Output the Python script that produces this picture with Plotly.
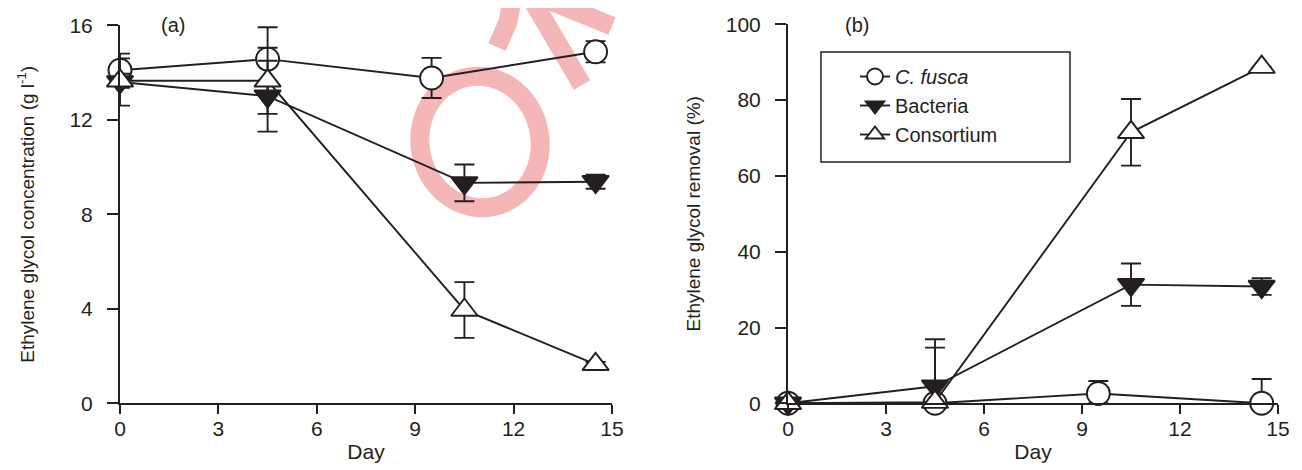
import numpy as np
import plotly.graph_objects as go

# ---------------- data ----------------
days_cf = [0, 4.5, 9.5, 14.5]
days_bc = [0, 4.5, 10.5, 14.5]

conc_cf = [14.1, 14.57, 13.77, 14.88]
conc_cf_err = [0.7, 1.35, 0.85, 0.45]
conc_bac = [13.6, 13.0, 9.33, 9.38]
conc_bac_err = [1.0, 1.5, 0.78, 0.3]
conc_con = [13.65, 13.65, 3.95, 1.65]
conc_con_err = [0.3, 1.4, 1.18, 0.1]

rem_cf = [0, 0, 2.6, 0]
rem_cf_err = [0, 0, 3.3, 6.4]
rem_bac = [0, 4.5, 31.3, 30.8]
rem_bac_err = [0, 12.4, 5.6, 2.2]
rem_con = [0, 0.3, 71.5, 88.7]
rem_con_err = [0, 14.4, 8.8, 0]

names = ["<i>C. fusca</i>", "Bacteria", "Consortium"]
x_ticks = [0, 3, 6, 9, 12, 15]
conc_ticks = [0, 4, 8, 12, 16]
rem_ticks = [0, 20, 40, 60, 80, 100]

# ---------------- layout helpers ----------------
# the page body adds an 8 px margin, so the figure is drawn 8 px smaller
OFF = 8
W, H = 1302 - OFF, 470 - OFF
FONT = "Liberation Sans, Arial, sans-serif"
INK = "#231f20"


def px2x(p):
    return (p - OFF) / W


def py2y(p):
    return (H - (p - OFF)) / H


fig = go.Figure()

styles = [
    dict(symbol="circle", color="white"),
    dict(symbol="triangle-down", color=INK),
    dict(symbol="triangle-up", color="white"),
]


def add(x, y, err, style, name, xa, ya, legend):
    minus = [min(e, v) for e, v in zip(err, y)]
    fig.add_trace(go.Scatter(
        x=x, y=y, mode="lines+markers", name=name,
        line=dict(color=INK, width=1.9),
        marker=dict(symbol=style["symbol"], size=23, color=style["color"],
                    line=dict(color=INK, width=1.9)),
        error_y=dict(type="data", array=err, arrayminus=minus, symmetric=False,
                     color=INK, thickness=1.9, width=10),
        cliponaxis=False, xaxis=xa, yaxis=ya, showlegend=legend,
        legendgroup=name,
    ))


panel_a = [(days_cf, conc_cf, conc_cf_err), (days_bc, conc_bac, conc_bac_err),
           (days_bc, conc_con, conc_con_err)]
panel_b = [(days_cf, rem_cf, rem_cf_err), (days_bc, rem_bac, rem_bac_err),
           (days_bc, rem_con, rem_con_err)]

for (x, y, e), st, nm in zip(panel_a, styles, names):
    add(x, y, e, st, nm, "x", "y", False)
for (x, y, e), st, nm in zip(panel_b, styles, names):
    add(x, y, e, st, nm, "x2", "y2", True)

axis_common = dict(
    showline=True, linecolor=INK, linewidth=2, ticks="outside", tickwidth=2,
    tickcolor=INK, showgrid=False, zeroline=False, automargin=False,
    tickfont=dict(family=FONT, size=21, color=INK),
)
xaxis_common = dict(range=[0, 15], tickvals=x_ticks, ticklen=9, ticklabelstandoff=-4,
                    title=dict(text="Day", font=dict(family=FONT, size=21, color=INK),
                               standoff=6),
                    **axis_common)

fig.update_layout(
    width=W, height=H,
    margin=dict(l=0, r=0, t=0, b=0),
    paper_bgcolor="white", plot_bgcolor="rgba(0,0,0,0)",
    showlegend=True,
    xaxis=dict(domain=[px2x(120), px2x(612)], anchor="y", **xaxis_common),
    yaxis=dict(domain=[py2y(403.3), py2y(25.3)], range=[0, 16], tickvals=conc_ticks,
               ticklen=11, ticklabelstandoff=10, anchor="x",
               title=dict(text="Ethylene glycol concentration (g l<sup>-1</sup>)",
                          font=dict(family=FONT, size=19, color=INK), standoff=30),
               **axis_common),
    xaxis2=dict(domain=[px2x(788), px2x(1278)], anchor="y2", **xaxis_common),
    yaxis2=dict(domain=[py2y(403.3), py2y(24.3)], range=[0, 100], tickvals=rem_ticks,
                ticklen=11, ticklabelstandoff=10, anchor="x2",
                title=dict(text="Ethylene glycol removal (%)",
                           font=dict(family=FONT, size=19, color=INK), standoff=20),
                **axis_common),
    legend=dict(x=px2x(855), y=py2y(57), xanchor="left", yanchor="top",
                borderwidth=0, bgcolor="rgba(0,0,0,0)",
                font=dict(family=FONT, size=20, color=INK),
                itemsizing="trace", tracegroupgap=0),
    annotations=[
        dict(text="(a)", x=px2x(173), y=py2y(25), xref="paper", yref="paper",
             xanchor="center", yanchor="middle", showarrow=False,
             font=dict(family=FONT, size=20, color=INK)),
        dict(text="(b)", x=px2x(857), y=py2y(25), xref="paper", yref="paper",
             xanchor="center", yanchor="middle", showarrow=False,
             font=dict(family=FONT, size=20, color=INK)),
    ],
)

# legend frame
fig.add_shape(type="rect", xref="paper", yref="paper",
              x0=px2x(821), x1=px2x(1070), y0=py2y(162), y1=py2y(52),
              line=dict(color=INK, width=1.5), fillcolor="white", layer="above")

# ---------------- watermark (pink stroke behind the data) ----------------
PINK = "#f5b6b8"


def to_path(pts, close=False):
    s = "M" + " L".join(f"{px2x(px):.5f},{py2y(py):.5f}" for px, py in pts)
    return s + (" Z" if close else "")


t = np.linspace(0, 2 * np.pi, 80)
th = np.deg2rad(-11)
ex = 60 * np.cos(t)
ey = 66 * np.sin(t)
ring = list(zip(480 + ex * np.cos(th) - ey * np.sin(th),
                142 + ex * np.sin(th) + ey * np.cos(th)))
s = np.linspace(0, 1, 20)
arch = [(512 + 22 * u, -6 + 30 * (u - 0.45) ** 2) for u in s]
strokes = [
    to_path(ring, close=True),
    to_path([(497, 47), (508, 22)] + arch + [(582, 85)]),
    to_path([(548, 0), (612, 26)]),
]
for p in strokes:
    fig.add_shape(type="path", path=p, xref="paper", yref="paper",
                  line=dict(color=PINK, width=19), layer="below")

fig.write_html("out.html")
